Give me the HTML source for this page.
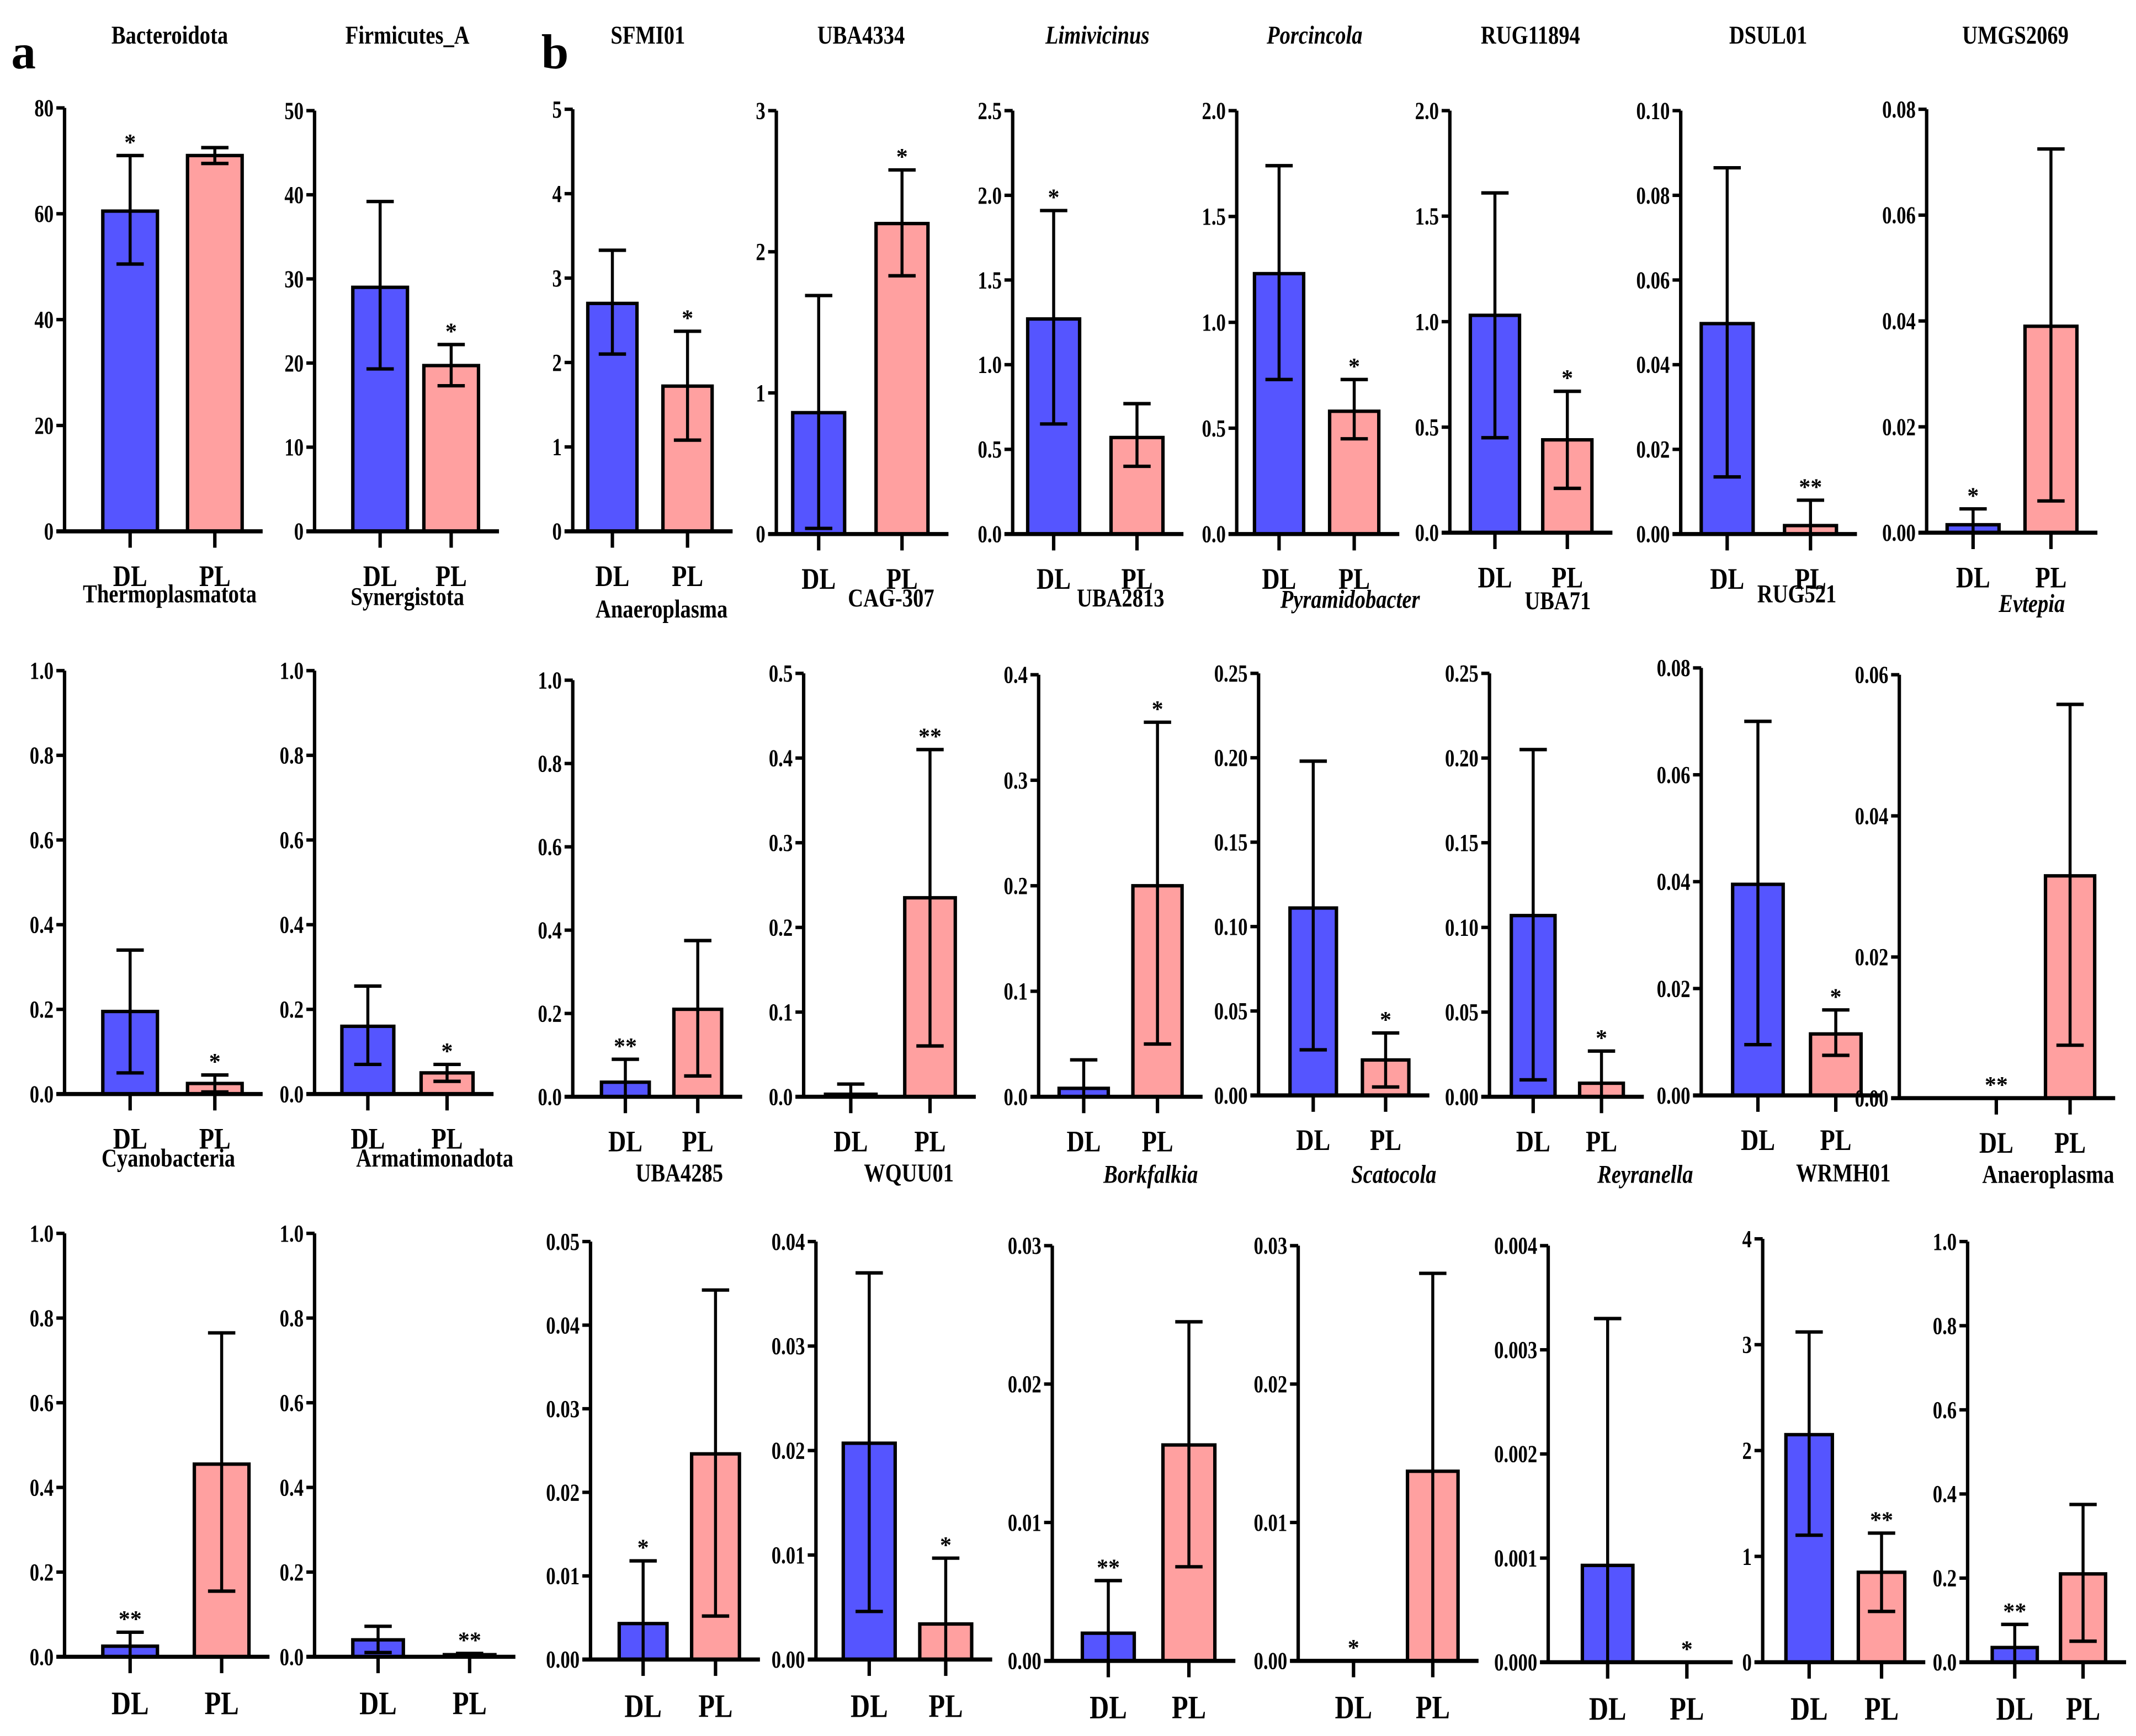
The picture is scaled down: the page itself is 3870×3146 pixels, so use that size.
<!DOCTYPE html>
<html><head><meta charset="utf-8"><style>
html,body{margin:0;padding:0;background:#fff}
svg{display:block}
text{font-family:"Liberation Serif",serif;font-weight:bold;fill:#000}
</style></head><body>
<svg id="chart" width="3870" height="3146" viewBox="0 0 1563 1271" xmlns="http://www.w3.org/2000/svg">
<text x="8" y="50" font-size="36">a</text>
<text x="396" y="50" font-size="36">b</text>
</svg>
<script>
// ---- data ----
const titles = ["Bacteroidota","Firmicutes_A","SFMI01","UBA4334","Limivicinus","Porcincola","RUG11894","DSUL01","UMGS2069",
"Thermoplasmatota","Synergistota","Anaeroplasma","CAG-307","UBA2813","Pyramidobacter","UBA71","RUG521","Evtepia",
"Cyanobacteria","Armatimonadota","UBA4285","WQUU01","Borkfalkia","Scatocola","Reyranella","WRMH01","Anaeroplasma"];
const italicTitle = [0,0,0,0,1,1,0,0,0, 0,0,0,0,0,1,0,0,1, 0,0,0,0,1,1,1,0,0];
const yMax = [80,50,5,3,2.5,2.0,2.0,0.10,0.08, 1.0,1.0,1.0,0.5,0.4,0.25,0.25,0.08,0.06, 1.0,1.0,0.05,0.04,0.03,0.03,0.004,4,1.0];
const tickStep = [20,10,1,1,0.5,0.5,0.5,0.02,0.02, 0.2,0.2,0.2,0.1,0.1,0.05,0.05,0.02,0.02, 0.2,0.2,0.01,0.01,0.01,0.01,0.001,1,0.2];
const tickDecimals = [0,0,0,0,1,1,1,2,2, 1,1,1,1,1,2,2,2,2, 1,1,2,2,2,2,3,0,1];
const dlMean = [60.5,29,2.7,0.86,1.27,1.23,1.03,0.0497,0.0015, 0.195,0.16,0.035,0.003,0.008,0.111,0.107,0.0395,0, 0.025,0.04,0.0043,0.0207,0.002,0,0.00093,2.15,0.035];
const dlLow = [50.5,19.3,2.1,0.04,0.65,0.73,0.45,0.0135,0, 0.05,0.07,0,0,0,0.027,0.01,0.0095,0, 0,0.01,0,0.0046,0,0,0,1.2,0];
const dlHigh = [71,39.2,3.33,1.69,1.91,1.74,1.61,0.0865,0.0045, 0.34,0.255,0.09,0.015,0.035,0.198,0.205,0.07,0, 0.058,0.072,0.0118,0.037,0.0058,0,0.0033,3.12,0.09];
const plMean = [71,19.7,1.72,2.2,0.57,0.58,0.44,0.002,0.039, 0.025,0.05,0.21,0.235,0.2,0.021,0.008,0.0115,0.0315, 0.455,0.005,0.0246,0.0034,0.0156,0.0137,0,0.85,0.21];
const plLow = [69.5,17.3,1.08,1.83,0.4,0.45,0.21,0,0.006, 0.005,0.03,0.05,0.06,0.05,0.005,0,0.0075,0.0075, 0.155,0,0.0052,0,0.0068,0,0,0.48,0.05];
const plHigh = [72.5,22.2,2.37,2.58,0.77,0.73,0.67,0.008,0.0725, 0.045,0.07,0.375,0.41,0.355,0.037,0.027,0.016,0.0558, 0.765,0.008,0.0442,0.0097,0.0245,0.028,0,1.22,0.375];
const dlSig = ["*","","","","*","","","","*", "","","**","","","","","","**", "**","","*","","**","*","","","**"];
const plSig = ["","*","*","*","","*","*","**","", "*","*","","**","*","*","*","*","", "","**","","*","","","*","**",""];

// ---- layout (positions, not data) ----
const axX  = [47,230,419,568,741,905,1061,1230,1410, 47,230,419,588,760,921,1090,1245,1390, 47,230,432,597,770,950,1133,1290,1440];
const axTop= [79,81,80,81,81,81,81,81,80, 491,491,498,493,494,493,493,489,494, 903,903,909,909,912,912,912,907,909];
const axBot= [389,389,389,391,391,391,390,391,390, 801,801,803,803,803,802,803,802,804, 1213,1213,1215,1215,1216,1216,1217,1217,1217];
const dlX  = [75,258,430,580,752,918,1076,1245,1425, 75,250,440,604,775,944,1106,1268,1443, 75,258,453,617,792,972,1158,1307,1458];
const plX  = [137,310,485,641,813,973,1129,1306,1482, 137,308,493,662,829,997,1156,1325,1497, 142,325,506,673,851,1030,1216,1360,1508];
const barW = [40,40,36,38,38,36,36,38,38, 40,38,35,37,36,34,32,37,36, 40,37,35,38,38,37,37,34,33];
const titleX=[124,298,474,630,803,962,1120,1294,1475, 124,298,484,652,820,988,1140,1315,1487, 123,318,497,665,842,1020,1204,1349,1499];
const titleY=[32,32,32,32,32,32,32,32,32, 441,443,452,444,444,445,446,441,448, 854,854,865,865,866,866,866,865,866];

const svg = document.getElementById('chart');
const NS = "http://www.w3.org/2000/svg";
function mk(tag, attrs, parent){const e=document.createElementNS(NS,tag);for(const k in attrs)e.setAttribute(k,attrs[k]);(parent||svg).appendChild(e);return e;}

for(let i=0;i<titles.length;i++){
  const g = mk('g',{});
  
  
  const row = Math.floor(i/9);
  const y = v => axBot[i] - (v/yMax[i])*(axBot[i]-axTop[i]);
  const bw = barW[i];
  const xEnd = plX[i]+bw+15;
  const t = mk('text',{x:titleX[i],y:titleY[i],'font-size':19,'text-anchor':'middle','font-style':italicTitle[i]?'italic':'normal',transform:`translate(${titleX[i]*0.18},0) scale(0.82,1)`},g);
  t.textContent = titles[i];
  
  
  const ya = mk('line',{x1:axX[i],y1:axTop[i],x2:axX[i],y2:axBot[i],stroke:'#000','stroke-width':2.5},g);
  
  
  const nT = Math.round(yMax[i]/tickStep[i]);
  for(let k=0;k<=nT;k++){
    const v=k*tickStep[i];
    mk('line',{x1:axX[i]-6,y1:y(v),x2:axX[i],y2:y(v),stroke:'#000','stroke-width':2.5},g);
    const tx = axX[i]-8;
    const tl = mk('text',{x:tx,y:y(v)+6,'font-size':18,'text-anchor':'end',transform:`translate(${tx*0.22},0) scale(0.78,1)`},g);
    tl.textContent = v.toFixed(tickDecimals[i]);
    
    
  }
  const groups=[[dlX[i],dlMean[i],dlLow[i],dlHigh[i],dlSig[i],'#5555ff','DL'],[plX[i],plMean[i],plLow[i],plHigh[i],plSig[i],'#ffa0a0','PL']];
  groups.forEach(([bx,m,lo,hi,sig,col,lab])=>{
    const r = mk('rect',{x:bx,y:y(m),width:bw,height:Math.max(0,axBot[i]-y(m)),fill:col,stroke:'#000','stroke-width':2.5},g);
    
    
    const cx = bx+bw/2;
    if(hi>lo){
      mk('line',{x1:cx,y1:y(hi),x2:cx,y2:y(lo),stroke:'#000','stroke-width':2.2},g);
      mk('line',{x1:cx-10,y1:y(hi),x2:cx+10,y2:y(hi),stroke:'#000','stroke-width':2.5},g);
      mk('line',{x1:cx-10,y1:y(lo),x2:cx+10,y2:y(lo),stroke:'#000','stroke-width':2.5},g);
    }
    if(sig){
      const s = mk('text',{x:cx,y:y(Math.max(hi,m))-4,'font-size':17,'text-anchor':'middle'},g);
      s.textContent=sig;
      
      
    }
    mk('line',{x1:cx,y1:axBot[i],x2:cx,y2:axBot[i]+12,stroke:'#000','stroke-width':2.5},g);
    const xl = mk('text',{x:cx,y:axBot[i]+(row===2?42:40),'font-size':row===2?24:22,'text-anchor':'middle',transform:`translate(${cx*0.18},0) scale(0.82,1)`},g);
    xl.textContent=lab;
    
    
  });
  const xa = mk('line',{x1:axX[i]-6,y1:axBot[i],x2:xEnd,y2:axBot[i],stroke:'#000','stroke-width':3},g);
  
  
}
</script>
</body></html>
